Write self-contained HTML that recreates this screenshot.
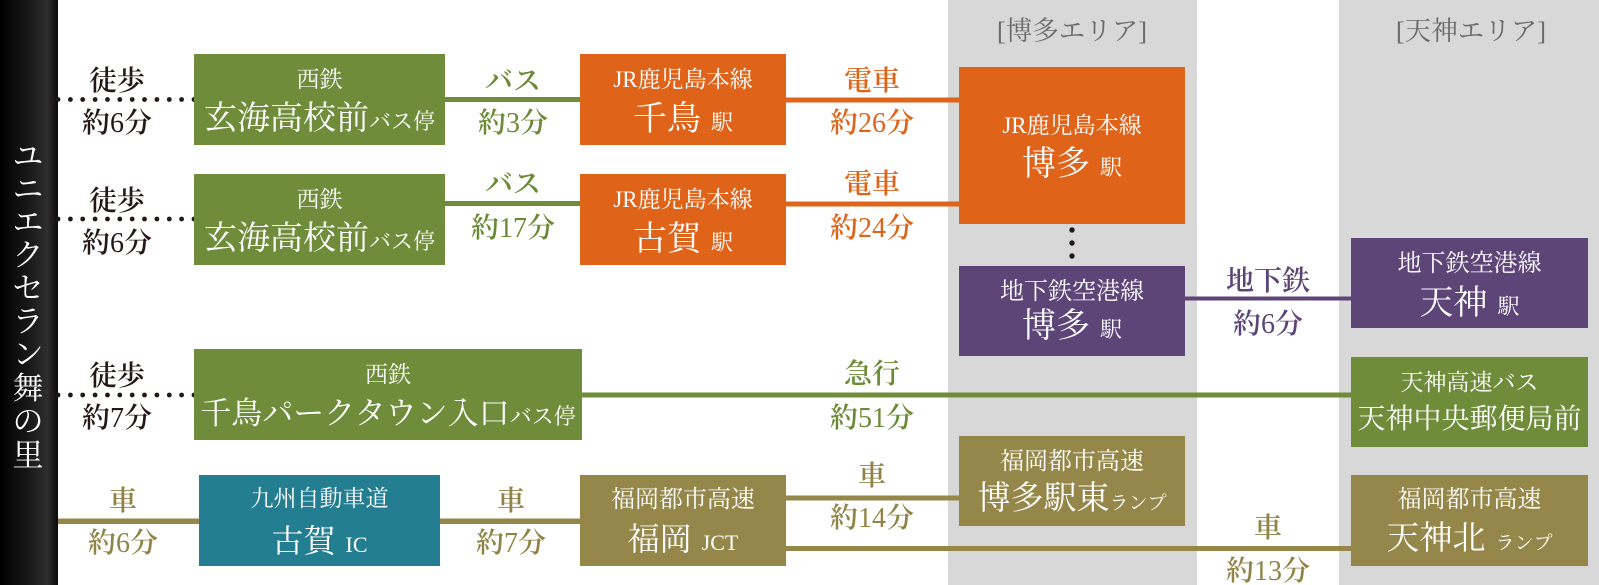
<!DOCTYPE html>
<html lang="ja">
<head>
<meta charset="utf-8">
<style>
html,body{margin:0;padding:0;background:#fff;}
body{width:1599px;height:585px;overflow:hidden;position:relative;}
svg{display:block;font-family:"Liberation Serif","Noto Serif CJK SC",serif;}
.w{fill:#fff;}
.lb{font-size:28px;font-weight:600;}
.n{font-weight:400;}
.dk{fill:#231815;}
.gr{fill:#6b8a35;}
.or{fill:#df6419;}
.pu{fill:#5b4577;}
.ol{fill:#8f8446;}
</style>
</head>
<body>
<svg width="1599" height="585" viewBox="0 0 1599 585" xmlns="http://www.w3.org/2000/svg">
<defs>
<linearGradient id="bar" x1="0" x2="1" y1="0" y2="0">
<stop offset="0" stop-color="#000"/>
<stop offset="0.45" stop-color="#161616"/>
<stop offset="0.82" stop-color="#2e2e2e"/>
<stop offset="1" stop-color="#0a0a0a"/>
</linearGradient>
</defs>

<!-- area columns -->
<rect x="948" y="0" width="249" height="585" fill="#d8d8d8"/>
<rect x="1339" y="0" width="260" height="585" fill="#d8d8d8"/>

<!-- left bar -->
<rect x="0" y="0" width="58" height="585" fill="url(#bar)"/>
<g class="w" font-size="31" text-anchor="middle">
<text x="28" y="167">ユ</text>
<text x="28" y="200">ニ</text>
<text x="28" y="233">エ</text>
<text x="28" y="266">ク</text>
<text x="28" y="299">セ</text>
<text x="28" y="332">ラ</text>
<text x="28" y="365">ン</text>
<text x="28" y="399">舞</text>
<text x="28" y="432">の</text>
<text x="28" y="466">里</text>
</g>

<!-- area labels -->
<g fill="#6b6b6b" font-size="26.5" text-anchor="middle">
<text x="1072" y="40">[博多エリア]</text>
<text x="1471" y="40">[天神エリア]</text>
</g>

<!-- dotted walking lines -->
<g fill="#231815">
<circle cx="58" cy="99.5" r="2.4"/><circle cx="70.4" cy="99.5" r="2.4"/><circle cx="82.7" cy="99.5" r="2.4"/><circle cx="95.1" cy="99.5" r="2.4"/><circle cx="107.5" cy="99.5" r="2.4"/><circle cx="119.8" cy="99.5" r="2.4"/><circle cx="132.2" cy="99.5" r="2.4"/><circle cx="144.5" cy="99.5" r="2.4"/><circle cx="156.9" cy="99.5" r="2.4"/><circle cx="169.3" cy="99.5" r="2.4"/><circle cx="181.6" cy="99.5" r="2.4"/><circle cx="194" cy="99.5" r="2.4"/>
<circle cx="58" cy="219" r="2.4"/><circle cx="70.4" cy="219" r="2.4"/><circle cx="82.7" cy="219" r="2.4"/><circle cx="95.1" cy="219" r="2.4"/><circle cx="107.5" cy="219" r="2.4"/><circle cx="119.8" cy="219" r="2.4"/><circle cx="132.2" cy="219" r="2.4"/><circle cx="144.5" cy="219" r="2.4"/><circle cx="156.9" cy="219" r="2.4"/><circle cx="169.3" cy="219" r="2.4"/><circle cx="181.6" cy="219" r="2.4"/><circle cx="194" cy="219" r="2.4"/>
<circle cx="58" cy="395" r="2.4"/><circle cx="70.4" cy="395" r="2.4"/><circle cx="82.7" cy="395" r="2.4"/><circle cx="95.1" cy="395" r="2.4"/><circle cx="107.5" cy="395" r="2.4"/><circle cx="119.8" cy="395" r="2.4"/><circle cx="132.2" cy="395" r="2.4"/><circle cx="144.5" cy="395" r="2.4"/><circle cx="156.9" cy="395" r="2.4"/><circle cx="169.3" cy="395" r="2.4"/><circle cx="181.6" cy="395" r="2.4"/><circle cx="194" cy="395" r="2.4"/>
<!-- vertical dots hakata -->
<circle cx="1072" cy="230" r="2.7"/><circle cx="1072" cy="243" r="2.7"/><circle cx="1072" cy="256" r="2.7"/>
</g>

<!-- connector lines -->
<rect x="445" y="97" width="135" height="5" fill="#6e8c3a"/>
<rect x="786" y="97.5" width="173" height="5" fill="#df6419"/>
<rect x="445" y="201" width="135" height="5" fill="#6e8c3a"/>
<rect x="786" y="201.5" width="173" height="5" fill="#df6419"/>
<rect x="1185" y="296.5" width="166" height="4" fill="#5d4578"/>
<rect x="582" y="392.5" width="769" height="5" fill="#6e8c3a"/>
<rect x="58" y="518.5" width="141" height="5.5" fill="#948749"/>
<rect x="440" y="518.5" width="140" height="5.5" fill="#948749"/>
<rect x="786" y="495.5" width="173" height="5" fill="#948749"/>
<rect x="786" y="546" width="565" height="5" fill="#948749"/>

<!-- boxes -->
<rect x="194" y="54" width="251" height="91" fill="#6e8c3a"/>
<rect x="194" y="174" width="251" height="91" fill="#6e8c3a"/>
<rect x="194" y="349" width="388" height="91" fill="#6e8c3a"/>
<rect x="580" y="54" width="206" height="91" fill="#df6419"/>
<rect x="580" y="174" width="206" height="91" fill="#df6419"/>
<rect x="959" y="67" width="226" height="157" fill="#df6419"/>
<rect x="959" y="266" width="226" height="90" fill="#5d4578"/>
<rect x="1351" y="238" width="237" height="90" fill="#5d4578"/>
<rect x="1351" y="357" width="237" height="90" fill="#6e8c3a"/>
<rect x="199" y="475" width="241" height="91" fill="#237e92"/>
<rect x="580" y="475" width="206" height="91" fill="#948749"/>
<rect x="959" y="436" width="226" height="90" fill="#948749"/>
<rect x="1351" y="475" width="237" height="91" fill="#948749"/>

<!-- connector labels -->
<g class="lb" text-anchor="middle">
<text class="dk" x="117" y="90">徒歩</text>
<text class="dk" x="117" y="132">約<tspan class="n">6</tspan>分</text>
<text class="dk" x="117" y="210">徒歩</text>
<text class="dk" x="117" y="252">約<tspan class="n">6</tspan>分</text>
<text class="dk" x="117" y="385">徒歩</text>
<text class="dk" x="117" y="427">約<tspan class="n">7</tspan>分</text>

<text class="gr" x="513" y="90">バス</text>
<text class="gr" x="513" y="132">約<tspan class="n">3</tspan>分</text>
<text class="gr" x="513" y="193">バス</text>
<text class="gr" x="513" y="237">約<tspan class="n">17</tspan>分</text>

<text class="or" x="872" y="90">電車</text>
<text class="or" x="872" y="132">約<tspan class="n">26</tspan>分</text>
<text class="or" x="872" y="193">電車</text>
<text class="or" x="872" y="237">約<tspan class="n">24</tspan>分</text>

<text class="pu" x="1268" y="290">地下鉄</text>
<text class="pu" x="1268" y="333">約<tspan class="n">6</tspan>分</text>

<text class="gr" x="872" y="383">急行</text>
<text class="gr" x="872" y="427">約<tspan class="n">51</tspan>分</text>

<text class="ol" x="123" y="510">車</text>
<text class="ol" x="123" y="552">約<tspan class="n">6</tspan>分</text>
<text class="ol" x="511" y="510">車</text>
<text class="ol" x="511" y="552">約<tspan class="n">7</tspan>分</text>
<text class="ol" x="872" y="485">車</text>
<text class="ol" x="872" y="527">約<tspan class="n">14</tspan>分</text>
<text class="ol" x="1268" y="537">車</text>
<text class="ol" x="1268" y="580">約<tspan class="n">13</tspan>分</text>
</g>

<!-- box texts -->
<g class="w" text-anchor="middle">
<text x="319.5" y="87" font-size="23">西鉄</text>
<text x="319.5" y="129"><tspan font-size="33">玄海高校前</tspan><tspan font-size="22">バス停</tspan></text>
<text x="319.5" y="207" font-size="23">西鉄</text>
<text x="319.5" y="249"><tspan font-size="33">玄海高校前</tspan><tspan font-size="22">バス停</tspan></text>
<text x="388" y="382" font-size="23">西鉄</text>
<text x="388" y="424"><tspan font-size="31">千鳥パークタウン入口</tspan><tspan font-size="22">バス停</tspan></text>

<text x="683" y="87" font-size="23">JR鹿児島本線</text>
<text x="683" y="130"><tspan font-size="34">千鳥</tspan><tspan font-size="22" dx="10">駅</tspan></text>
<text x="683" y="207" font-size="23">JR鹿児島本線</text>
<text x="683" y="250"><tspan font-size="34">古賀</tspan><tspan font-size="22" dx="10">駅</tspan></text>

<text x="1072" y="133" font-size="23">JR鹿児島本線</text>
<text x="1072" y="175"><tspan font-size="34">博多</tspan><tspan font-size="22" dx="10">駅</tspan></text>
<text x="1072" y="299" font-size="24">地下鉄空港線</text>
<text x="1072" y="337"><tspan font-size="34">博多</tspan><tspan font-size="22" dx="10">駅</tspan></text>

<text x="1469.5" y="271" font-size="24">地下鉄空港線</text>
<text x="1469.5" y="314"><tspan font-size="34">天神</tspan><tspan font-size="22" dx="10">駅</tspan></text>
<text x="1469.5" y="390" font-size="23">天神高速バス</text>
<text x="1469.5" y="428" font-size="28">天神中央郵便局前</text>

<text x="319.5" y="506" font-size="23">九州自動車道</text>
<text x="319.5" y="552"><tspan font-size="32">古賀</tspan><tspan font-size="22" dx="10">IC</tspan></text>
<text x="683" y="507" font-size="24">福岡都市高速</text>
<text x="683" y="550"><tspan font-size="32">福岡</tspan><tspan font-size="22" dx="10">JCT</tspan></text>
<text x="1072" y="469" font-size="24">福岡都市高速</text>
<text x="1072" y="509"><tspan font-size="33">博多駅東</tspan><tspan font-size="19">ランプ</tspan></text>
<text x="1469.5" y="507" font-size="24">福岡都市高速</text>
<text x="1469.5" y="549"><tspan font-size="33">天神北</tspan><tspan font-size="19" dx="10">ランプ</tspan></text>
</g>
</svg>
</body>
</html>
